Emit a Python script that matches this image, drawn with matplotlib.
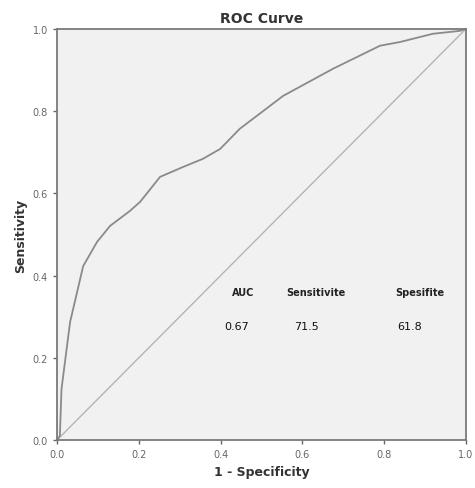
import matplotlib
matplotlib.use("Agg")
import matplotlib.pyplot as plt

# ROC curve points
fpr = [0.0, 0.007, 0.011, 0.032, 0.064, 0.098, 0.130, 0.178, 0.203, 0.252,
       0.308, 0.357, 0.399, 0.447, 0.553, 0.675, 0.790, 0.839, 0.919, 0.985, 1.0]
tpr = [0.0, 0.010, 0.124, 0.287, 0.423, 0.482, 0.521, 0.557, 0.579, 0.640,
       0.664, 0.684, 0.708, 0.757, 0.837, 0.903, 0.959, 0.968, 0.988, 0.995, 1.0]

headers = ["AUC", "Sensitivite", "Spesifite"]
values = ["0.67", "71.5", "61.8"]
header_x = [0.455, 0.633, 0.888]
value_x = [0.44, 0.611, 0.863]

ticks = [0.0, 0.2, 0.4, 0.6, 0.8, 1.0]

fig = plt.figure(figsize=(4.75, 4.89), dpi=100)
ax = fig.add_axes([0.12, 0.098, 0.861, 0.841])
ax.set_facecolor("#f1f1f1")

ax.plot([0, 1], [0, 1], color="#b4b4b4", linewidth=1.0)
ax.plot(fpr, tpr, color="#8a8a8a", linewidth=1.3)

ax.set_xlim(0, 1)
ax.set_ylim(0, 1)
ax.set_xticks(ticks)
ax.set_yticks(ticks)
ax.set_xticklabels([f"{t:.1f}" for t in ticks])
ax.set_yticklabels([f"{t:.1f}" for t in ticks])
ax.tick_params(labelsize=7, colors="#666666", length=3, width=1)

for s in ax.spines.values():
    s.set_color("#7a7a7a")
    s.set_linewidth(1.3)

ax.set_title("ROC Curve", fontsize=10, fontweight="bold", color="#333333", pad=5)
ax.set_xlabel("1 - Specificity", fontsize=9, fontweight="bold", color="#333333")
ax.set_ylabel("Sensitivity", fontsize=9, fontweight="bold", color="#333333")

for h, x in zip(headers, header_x):
    ax.text(x, 0.36, h, ha="center", va="center", fontsize=7, fontweight="bold", color="#222222")
for v, x in zip(values, value_x):
    ax.text(x, 0.277, v, ha="center", va="center", fontsize=8, color="#111111")

fig.savefig("out.png", dpi=100)
